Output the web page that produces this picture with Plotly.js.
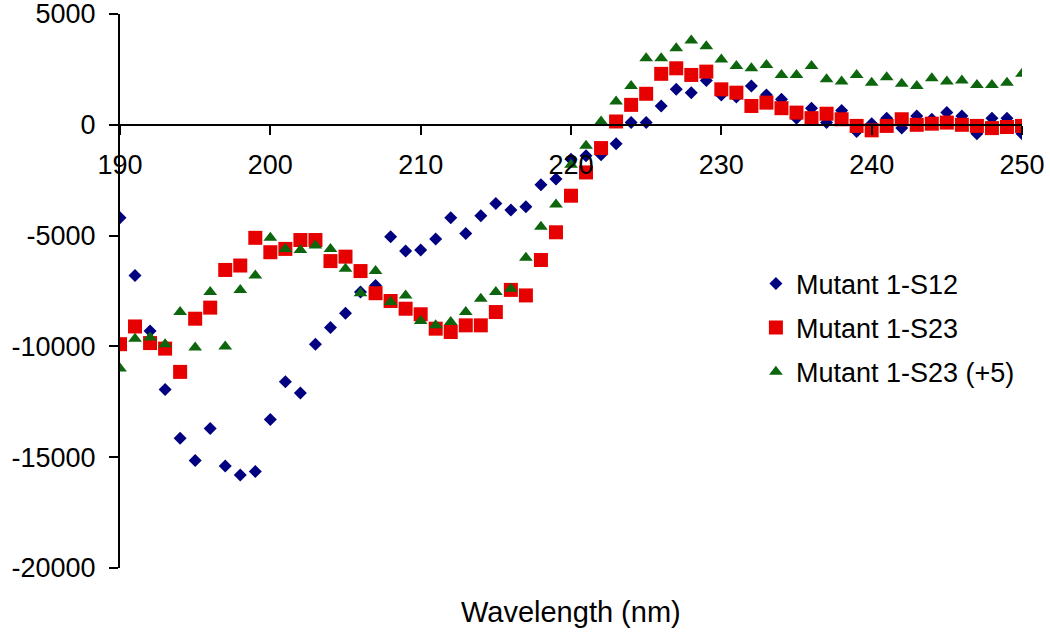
<!DOCTYPE html>
<html>
<head>
<meta charset="utf-8">
<script src="https://cdn.plot.ly/plotly-3.0.1.min.js"></script>
<style>html,body{margin:0;padding:0;background:#fff;}#chart{width:1050px;height:636px;}</style>
</head>
<body>
<div id="chart"></div>
<script>
const wavelength = [190,191,192,193,194,195,196,197,198,199,200,201,202,203,204,205,206,207,208,209,210,211,212,213,214,215,216,217,218,219,220,221,222,223,224,225,226,227,228,229,230,231,232,233,234,235,236,237,238,239,240,241,242,243,244,245,246,247,248,249,250];

const mutantS12 = [-4200,-6800,-9300,-11950,-14150,-15150,-13700,-15400,-15800,-15650,-13300,-11600,-12100,-9900,-9150,-8500,-7550,-7250,-5050,-5700,-5650,-5150,-4200,-4900,-4100,-3550,-3850,-3700,-2700,-2450,-1550,-1400,-1350,-850,100,100,850,1600,1450,2000,1350,1250,1750,1350,1150,300,750,100,650,-300,50,300,-150,400,250,550,400,-400,300,300,-400];

const mutantS23 = [-9900,-9100,-9850,-10100,-11150,-8750,-8250,-6550,-6350,-5100,-5750,-5600,-5200,-5200,-6150,-5950,-6600,-7600,-7950,-8300,-8550,-9200,-9350,-9050,-9050,-8450,-7450,-7700,-6100,-4850,-3200,-2150,-1050,150,900,1400,2300,2550,2250,2400,1600,1450,850,1000,750,550,300,500,250,-50,-250,-50,250,0,50,100,0,-50,-150,-100,-50];

const mutantS23p5 = [-11000,-9650,-9600,-9900,-8450,-10050,-7550,-10000,-7450,-6800,-5100,-5600,-5650,-5450,-5600,-6500,-7600,-6600,-8000,-7700,-8850,-9050,-8900,-8450,-7850,-7550,-7400,-6000,-4600,-3600,-1800,-950,150,1050,1750,3000,3000,3450,3800,3550,2950,2650,2550,2700,2250,2250,2650,2050,1950,2250,1900,2150,1850,1750,2100,1950,2000,1800,1800,1900,2300];

const seriesNames = ["Mutant 1-S12", "Mutant 1-S23", "Mutant 1-S23 (+5)"];
const xTickVals = [190,200,210,220,230,240,250];
const xTickText = ["190","200","210","220","230","240","250"];
const yTickVals = [5000,0,-5000,-10000,-15000,-20000];
const yTickText = ["5000","0","-5000","-10000","-15000","-20000"];
const xTitle = "Wavelength (nm)";

const FONT = "Liberation Sans, Arial, sans-serif";

const traces = [
  {x: wavelength, y: mutantS12, name: seriesNames[0], legendgroup: "a", type: "scatter", mode: "markers",
   marker: {symbol: "diamond", size: 10, color: "#000080"}},
  {x: wavelength, y: mutantS23, name: seriesNames[1], legendgroup: "b", type: "scatter", mode: "markers",
   marker: {symbol: "square", size: 14, color: "#e60000"}},
  {x: wavelength, y: mutantS23p5, name: seriesNames[2], legendgroup: "c", type: "scatter", mode: "markers",
   marker: {symbol: "triangle-up", size: 12, color: "#0d660d"}}
];

const layout = {
  width: 1050, height: 636,
  margin: {l: 120, r: 28, t: 14, b: 68},
  paper_bgcolor: "#fff", plot_bgcolor: "#fff",
  font: {family: FONT, size: 27, color: "#000"},
  showlegend: true,
  legend: {x: 0.705, y: 0.557, xanchor: "left", yanchor: "top", tracegroupgap: 6,
           bgcolor: "rgba(0,0,0,0)", font: {family: FONT, size: 27, color: "#000"}},
  xaxis: {range: [190, 250], anchor: "free", position: 0.8,
          showline: true, linecolor: "#000", linewidth: 2,
          ticks: "outside", ticklen: 9, tickwidth: 2, tickcolor: "#000",
          tickvals: xTickVals, ticktext: xTickText, ticklabelstandoff: 7,
          showgrid: false, zeroline: false},
  yaxis: {range: [-20000, 5000],
          showline: true, linecolor: "#000", linewidth: 2,
          ticks: "outside", ticklen: 9, tickwidth: 2, tickcolor: "#000",
          tickvals: yTickVals, ticktext: yTickText, ticklabelstandoff: 8,
          ticklabeloverflow: "allow",
          showgrid: false, zeroline: false},
  annotations: [{text: xTitle, xref: "paper", yref: "paper", x: 0.5, y: 0,
                 xanchor: "center", yanchor: "top", yshift: -26, showarrow: false,
                 font: {family: FONT, size: 29, color: "#000"}}]
};

Plotly.newPlot("chart", traces, layout, {displayModeBar: false, staticPlot: true});
</script>
</body>
</html>
